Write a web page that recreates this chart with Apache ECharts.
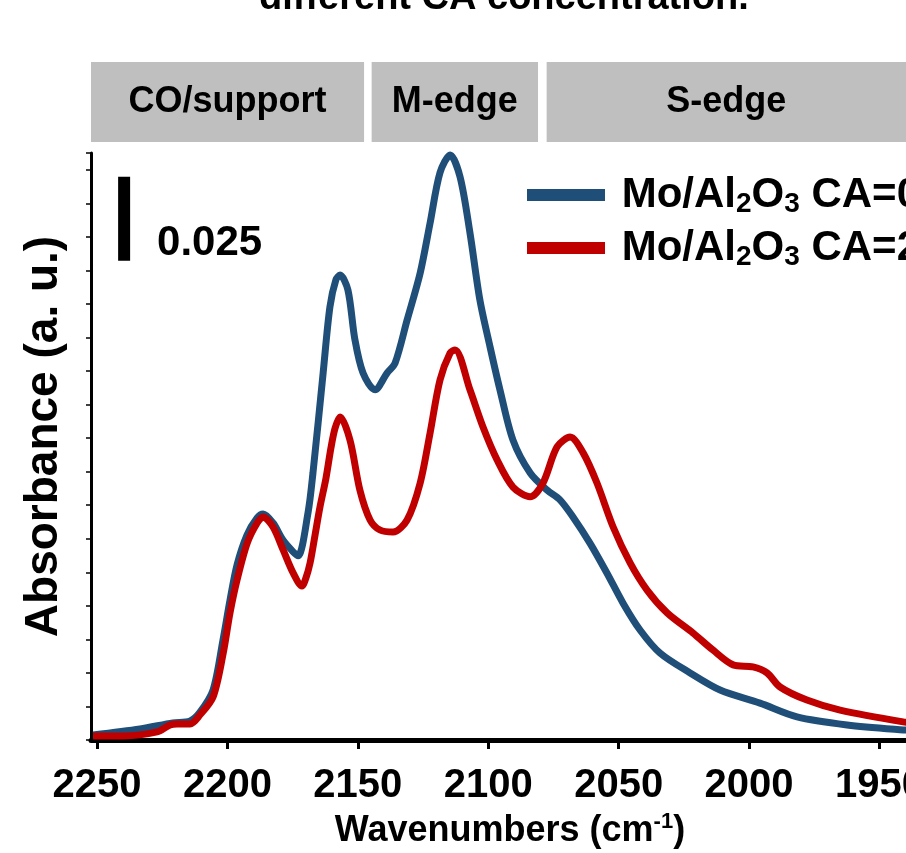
<!DOCTYPE html>
<html>
<head>
<meta charset="utf-8">
<script src="https://cdn.jsdelivr.net/npm/echarts@6/dist/echarts.min.js"></script>
<style>
html,body{margin:0;padding:0;background:#fff;}
#chart{width:906px;height:853px;}
</style>
</head>
<body>
<div id="chart"></div>
<script>
// ---- data ----
const seriesNames = ['Mo/Al2O3 CA=0', 'Mo/Al2O3 CA=2'];
const tickLabels = [1950, 2000, 2050, 2100, 2150, 2200, 2250];

const blueX = [2251.5,2233.5,2220.9,2214.3,2210.5,2205.5,2201.7,2199.0,2196.3,2192.5,2188.6,2186.3,2182.5,2178.7,2174.8,2172.9,2169.1,2167.2,2163.3,2160.7,2158.4,2156.8,2153.8,2151.1,2148.0,2143.4,2138.8,2135.7,2131.1,2126.1,2122.3,2118.5,2114.6,2110.8,2107.0,2103.2,2099.3,2095.5,2090.5,2083.9,2077.4,2072.5,2067.5,2061.0,2054.5,2048.3,2041.8,2034.1,2022.6,2011.1,1995.8,1981.6,1962.4,1940.8,1935.0];
const blueY = [0.0015,0.0033,0.0051,0.0057,0.0083,0.0149,0.0298,0.0417,0.0522,0.0611,0.0662,0.0674,0.0647,0.0596,0.0561,0.0549,0.0677,0.0796,0.1094,0.1291,0.1372,0.1386,0.1342,0.1193,0.1094,0.1044,0.1094,0.1124,0.1252,0.1392,0.1541,0.1691,0.1744,0.1679,0.1512,0.1312,0.1172,0.1044,0.0894,0.0796,0.0745,0.0716,0.0665,0.0587,0.0498,0.0408,0.0328,0.0259,0.0200,0.0149,0.0110,0.0069,0.0045,0.0030,0.0028];

const redX = [2251.5,2240.0,2227.0,2222.0,2219.3,2214.3,2210.5,2205.5,2201.6,2199.0,2196.3,2192.4,2188.6,2186.3,2182.5,2178.6,2174.8,2171.4,2169.9,2168.3,2166.4,2164.5,2162.2,2160.3,2158.7,2156.8,2153.0,2149.2,2145.3,2141.5,2136.5,2131.1,2126.1,2122.3,2118.5,2114.6,2112.7,2107.0,2102.0,2096.6,2090.5,2083.9,2079.0,2073.6,2068.6,2063.6,2058.3,2052.1,2045.6,2039.1,2031.4,2021.5,2013.8,2006.1,1998.5,1993.1,1988.1,1977.8,1965.1,1940.9,1935.0];
const redY = [0.0012,0.0012,0.0024,0.0045,0.0048,0.0048,0.0075,0.0128,0.0259,0.0379,0.0477,0.0587,0.0647,0.0665,0.0635,0.0566,0.0498,0.0459,0.0483,0.0528,0.0611,0.0695,0.0781,0.0871,0.0930,0.0963,0.0894,0.0745,0.0656,0.0626,0.0620,0.0656,0.0766,0.0915,0.1073,0.1154,0.1163,0.1044,0.0933,0.0835,0.0754,0.0725,0.0766,0.0874,0.0903,0.0856,0.0766,0.0635,0.0528,0.0447,0.0379,0.0319,0.0268,0.0224,0.0218,0.0200,0.0158,0.0119,0.0089,0.0054,0.0050];

// band annotations (wavenumber ranges)
const bandNames = ['CO/support', 'M-edge', 'S-edge'];
const bandStart = [2252.3, 2144.7, 2077.6];
const bandEnd = [2147.6, 2080.9, 1939.8];

// scale bar
const scaleBarX = 2239.6;
const scaleBarY0 = 0.1429;
const scaleBarLen = 0.025;

const X_MIN = 1931, X_MAX = 2252.3;
const Y_MIN = 0, Y_MAX = 0.175;

const FONT = 'Liberation Sans, Arial, Helvetica, sans-serif';
const BLUE = '#1f4e79', RED = '#c00000';

function pairs(xs, ys){ return xs.map((x,i)=>[x, ys[i]]); }

const chart = echarts.init(document.getElementById('chart'), null, {renderer:'canvas'});

const option = {
  backgroundColor: '#fff',
  animation: false,
  textStyle: {fontFamily: FONT},
  graphic: [{
    type: 'text', left: 259, top: -20,
    style: {text: 'different CA concentration.', font: 'bold 38px ' + FONT, fill: '#000'}
  }],
  grid: [
    {left: 91, top: 153, width: 838, height: 587, containLabel: false, outerBoundsMode: 'none'},
    {left: 91, top: 62, width: 838, height: 80, containLabel: false, outerBoundsMode: 'none'}
  ],
  xAxis: [{
    gridIndex: 0, type: 'value', inverse: true, min: X_MIN, max: X_MAX,
    axisLine: {show: true, onZero: false, lineStyle: {color: '#000', width: 5}},
    axisTick: {show: true, length: 9, lineStyle: {color: '#000', width: 3}, customValues: tickLabels},
    axisLabel: {customValues: tickLabels, formatter: v => String(v), fontSize: 40, fontWeight: 'bold', color: '#000', margin: 26, fontFamily: FONT},
    splitLine: {show: false},
    name: 'Wavenumbers (cm{sup|-1})', nameLocation: 'middle', nameGap: 63,
    nameTextStyle: {fontSize: 36, fontWeight: 'bold', color: '#000', lineHeight: 40, fontFamily: FONT,
      rich: {sup: {fontSize: 22, fontWeight: 'bold', lineHeight: 24, verticalAlign: 'top', color: '#000', fontFamily: FONT}}}
  }, {
    gridIndex: 1, type: 'value', inverse: true, min: X_MIN, max: X_MAX, show: false
  }],
  yAxis: [{
    gridIndex: 0, type: 'value', min: Y_MIN, max: Y_MAX, interval: 0.01,
    axisLine: {show: true, lineStyle: {color: '#000', width: 3}},
    axisTick: {show: true, length: 5, lineStyle: {color: '#000', width: 1.5}},
    axisLabel: {show: false},
    splitLine: {show: false},
    name: 'Absorbance (a. u.)', nameLocation: 'middle', nameGap: 24,
    nameTextStyle: {fontSize: 46, fontWeight: 'bold', color: '#000', fontFamily: FONT, padding: [0,0,0,20]}
  }, {
    gridIndex: 1, type: 'value', min: 0, max: 1, show: false
  }],
  legend: {
    data: seriesNames, orient: 'vertical', left: 527, top: 172, padding: 0,
    itemWidth: 78, itemHeight: 12, itemGap: 7, icon: 'rect',
    formatter: n => ' Mo/Al{sub|2}O{sub|3} ' + n.split(' ')[1],
    textStyle: {fontSize: 42, fontWeight: 'bold', color: '#000', lineHeight: 46, fontFamily: FONT,
      rich: {sub: {fontSize: 28, fontWeight: 'bold', lineHeight: 16, verticalAlign: 'bottom', color: '#000', fontFamily: FONT}}}
  },
  series: [
    {
      name: seriesNames[0], type: 'line', xAxisIndex: 0, yAxisIndex: 0,
      data: pairs(blueX, blueY), showSymbol: false, symbol: 'none', smooth: 0.3, clip: false,
      lineStyle: {color: BLUE, width: 7}, itemStyle: {color: BLUE}
    },
    {
      name: seriesNames[1], type: 'line', xAxisIndex: 0, yAxisIndex: 0,
      data: pairs(redX, redY), showSymbol: false, symbol: 'none', smooth: 0.3, clip: false,
      lineStyle: {color: RED, width: 7}, itemStyle: {color: RED}
    },
    {
      name: 'scalebar', type: 'line', xAxisIndex: 0, yAxisIndex: 0,
      data: [[scaleBarX, scaleBarY0], [scaleBarX, scaleBarY0 + scaleBarLen]],
      symbol: 'none', lineStyle: {color: '#000', width: 12, cap: 'butt'}, silent: true
    },
    {
      name: 'scalelabel', type: 'scatter', xAxisIndex: 0, yAxisIndex: 0,
      symbolSize: 0, silent: true, itemStyle: {opacity: 1},
      data: [{value: [2228.9, 0.1479]}],
      label: {show: true, position: 'right', distance: 5, formatter: String(scaleBarLen),
        fontSize: 42, fontWeight: 'bold', color: '#000', opacity: 1, fontFamily: FONT}
    },
    {
      name: 'bands', type: 'line', xAxisIndex: 1, yAxisIndex: 1, data: [],
      silent: true,
      markArea: {
        silent: true,
        itemStyle: {color: '#bfbfbf', opacity: 1},
        label: {show: true, position: 'inside', fontSize: 36, fontWeight: 'bold', color: '#000', fontFamily: FONT},
        data: bandNames.map((n, i) => [{name: n, xAxis: bandStart[i]}, {xAxis: bandEnd[i]}])
      }
    }
  ]
};
chart.setOption(option);
</script>
</body>
</html>
